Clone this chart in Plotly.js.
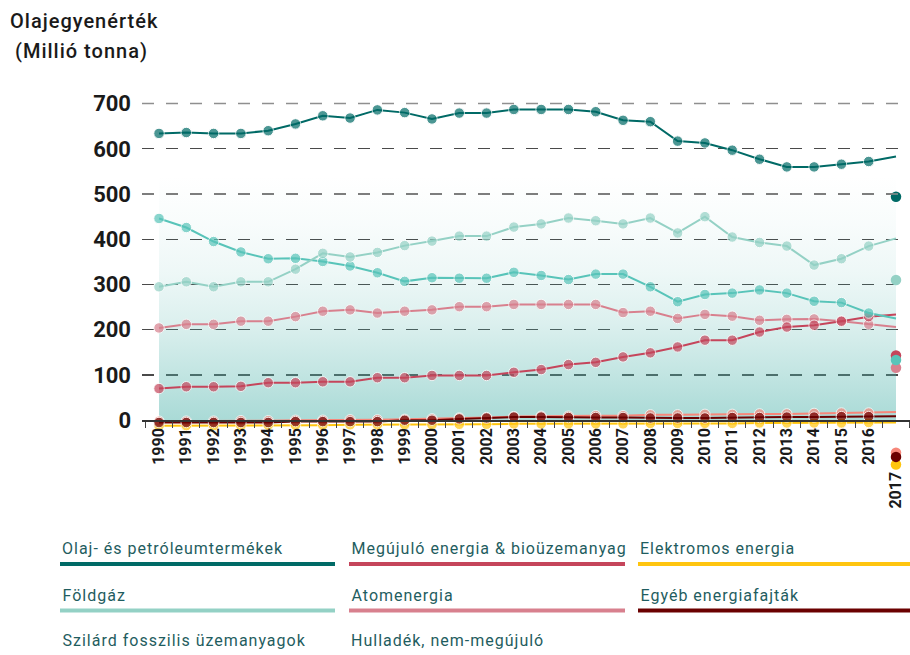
<!DOCTYPE html>
<html>
<head>
<meta charset="utf-8">
<script src="https://cdn.plot.ly/plotly-3.0.1.min.js"></script>
<style>
html,body{margin:0;padding:0;background:#fff;}
#chart{width:910px;height:655px;}
#chart text.annotation-text{letter-spacing:1px;}
</style>
</head>
<body>
<div id="chart"></div>
<script>
// ---- data ----
const years = ['1990','1991','1992','1993','1994','1995','1996','1997','1998','1999','2000','2001','2002','2003','2004','2005','2006','2007','2008','2009','2010','2011','2012','2013','2014','2015','2016','2017'];
const oil        = [634,636,634,634,640,655,673,668,686,680,666,679,679,687,687,687,682,663,660,617,613,597,577,560,560,566,572,583];
const gas        = [295,306,295,306,306,334,369,361,371,386,396,407,407,427,434,447,441,434,447,414,450,405,393,385,343,357,385,402];
const solid      = [446,426,395,372,357,358,351,341,326,307,315,314,314,327,320,311,323,323,295,262,278,281,288,281,263,260,237,225];
const renewables = [70,74,74,75,83,83,85,85,94,94,99,99,99,106,112,123,128,140,149,162,177,177,195,206,210,219,229,234];
const nuclear    = [204,212,212,219,219,229,241,244,237,241,244,251,251,256,256,256,256,238,241,225,234,230,221,223,224,219,212,206];
const waste      = [-2,-2,-2,-1,-1,0,0,1,1,2,3,5,6,8,9,9,10,10,12,12,13,13,14,14,15,16,16,18];
const other      = [-5,-5,-5,-5,-5,-3,-3,-3,-3,0,0,3,5,7,7,6,6,6,5,5,5,6,6,7,7,8,8,9];
const electricity= [-12,-12,-12,-12,-11,-11,-11,-10,-10,-10,-10,-9,-9,-8,-8,-8,-8,-8,-7,-7,-7,-7,-6,-6,-6,-6,-5,-5];
// separate 2017 dots as drawn in the reference
const dotNames2017 = ['Elektromos energia','Hulladék, nem-megújuló','Egyéb energiafajták','Atomenergia','Megújuló energia & bioüzemanyag','Szilárd fosszilis üzemanyagok','Földgáz','Olaj- és petróleumtermékek'];
const dots2017 = [-98,-72,-81,116,143,133,310,494];
// background band
const bandYears = ['1990','2017'];
const bandTop = [540,540];

const names = ['Olaj- és petróleumtermékek','Földgáz','Szilárd fosszilis üzemanyagok','Megújuló energia & bioüzemanyag','Atomenergia','Hulladék, nem-megújuló','Elektromos energia','Egyéb energiafajták'];
const titleLines = ['Olajegyenérték','(Millió tonna)'];
const yTicksDark = [0,100,200,300,400,500,600];
const yTicksLight = [500,700];
const yTickLabels = [0,100,200,300,400,500,600,700];
const tickLabels = years.map(y => y === '2017' ? '2017\u00a0\u00a0\u00a0\u00a0\u00a0\u00a0\u00a0\u00a0\u00a0\u00a0\u00a0' : y);

// ---- styles ----
const colors = {
  'Olaj- és petróleumtermékek':'#006a66',
  'Földgáz':'#94d1c5',
  'Szilárd fosszilis üzemanyagok':'#58c4b9',
  'Megújuló energia & bioüzemanyag':'#c5455b',
  'Atomenergia':'#d8808e',
  'Hulladék, nem-megújuló':'#f7877a',
  'Elektromos energia':'#ffc50f',
  'Egyéb energiafajták':'#6b0000'
};
const seriesByName = {
  'Olaj- és petróleumtermékek':oil,'Földgáz':gas,'Szilárd fosszilis üzemanyagok':solid,
  'Megújuló energia & bioüzemanyag':renewables,'Atomenergia':nuclear,'Hulladék, nem-megújuló':waste,
  'Elektromos energia':electricity,'Egyéb energiafajták':other
};
const drawOrder = ['Elektromos energia','Hulladék, nem-megújuló','Egyéb energiafajták','Atomenergia','Megújuló energia & bioüzemanyag','Szilárd fosszilis üzemanyagok','Földgáz','Olaj- és petróleumtermékek'];
const FONT = 'Roboto, "DejaVu Sans Condensed", sans-serif';
const LS = 1; // css letter-spacing used for annotation text

const traces = [];
traces.push({
  x: bandYears, y: bandTop, type:'scatter', mode:'none', fill:'tozeroy',
  fillgradient:{type:'vertical', start:0, stop:540,
    colorscale:[[0,'rgba(80,180,172,0.49)'],[0.2,'rgba(80,180,172,0.34)'],[0.4,'rgba(80,180,172,0.2)'],[0.6,'rgba(80,180,172,0.1)'],[0.8,'rgba(80,180,172,0.04)'],[1,'rgba(80,180,172,0)']]},
  hoverinfo:'skip', showlegend:false
});
drawOrder.forEach(n => {
  const vals = seriesByName[n];
  traces.push({
    x: years, y: vals, name: n, type:'scatter', mode:'lines+markers',
    line:{color:colors[n], width:2},
    marker:{color:colors[n], size: years.map(y => y === '2017' ? 0 : 10.5)},
    cliponaxis:false, showlegend:false
  });
});
traces.push({
  x: dotNames2017.map(() => '2017'), y: dots2017, type:'scatter', mode:'markers',
  marker:{color: dotNames2017.map(n => colors[n]), size:10.5},
  text: dotNames2017, cliponaxis:false, showlegend:false
});

// geometry helpers (plot area in pixels)
const L = 142, R = 0, T = 90, B = 185, W = 910, H = 655;
const pw = W - L - R, ph = H - T - B;
const yMin = -110, yMax = 730;
const px = v => (v - L) / pw;
const py = v => (H - B - v) / ph;
// left-anchored text position, compensating for css letter-spacing (plotly centres on unspaced width)
const leftX = (pxLeft, txt) => px(pxLeft + txt.length * LS / 2);

const annotations = [
  {text:titleLines[0], x:leftX(8, titleLines[0]), y:py(21), xref:'paper', yref:'paper', xanchor:'left', yanchor:'middle', showarrow:false, font:{family:FONT, size:20, color:'#1a1a1a', weight:500}},
  {text:titleLines[1], x:leftX(13, titleLines[1]), y:py(51), xref:'paper', yref:'paper', xanchor:'left', yanchor:'middle', showarrow:false, font:{family:FONT, size:20, color:'#1a1a1a', weight:500}}
];
const shapes = [];
const colX = [[60,335],[349,625],[638,910]];
const rowTextY = [548,595,640];
const rowLineY = [564,610.5,657];
names.forEach((n,i) => {
  const c = Math.floor(i/3), r = i%3;
  annotations.push({text:n, x:leftX(colX[c][0], n), y:py(rowTextY[r]), xref:'paper', yref:'paper', xanchor:'left', yanchor:'middle', showarrow:false,
    font:{family:FONT, size:16, color:'#1f5d60'}});
  shapes.push({type:'line', xref:'paper', yref:'paper', x0:px(colX[c][0]), x1:px(colX[c][1]), y0:py(rowLineY[r]), y1:py(rowLineY[r]),
    line:{color:colors[n], width:4}});
});
// light dashed guides at 500 and 700 (reference draws these in a lighter grey)
yTicksLight.forEach(v => shapes.push({type:'line', xref:'paper', yref:'y', x0:0, x1:1, y0:v, y1:v, layer:'above',
  line:{color:'#8f8f8f', width:1.6, dash:'12px,12px'}}));

const layout = {
  width:W, height:H, margin:{l:L, r:R, t:T, b:B},
  paper_bgcolor:'#fff', plot_bgcolor:'rgba(0,0,0,0)',
  showlegend:false,
  font:{family:FONT, color:'#1a1a1a'},
  xaxis:{type:'category', categoryorder:'array', categoryarray:years, range:[-0.623, 27.513], anchor:'free', position:(0 - yMin)/(yMax - yMin),
    showline:true, linecolor:'#333', linewidth:1.5, ticks:'outside', ticklen:6, tickcolor:'#444', tickson:'boundaries',
    tickmode:'array', tickvals:years, ticktext:tickLabels, tickangle:-90, showgrid:false, zeroline:false,
    tickfont:{family:FONT, size:16, color:'#1a1a1a', weight:'bold'}},
  yaxis:{range:[yMin,yMax], tickmode:'array', tickvals:yTickLabels, showgrid:false,
    minor:{tickmode:'array', tickvals:yTicksDark, showgrid:true, gridcolor:'#4a4a4a', griddash:'12px,12px', gridwidth:1.2, ticks:''},
    zeroline:false, showline:false, ticks:'', ticklabelstandoff:10, tickfont:{family:FONT, size:22, color:'#1a1a1a', weight:'bold'}},
  shapes, annotations
};
Plotly.newPlot('chart', traces, layout, {displayModeBar:false, staticPlot:true});
</script>
</body>
</html>
